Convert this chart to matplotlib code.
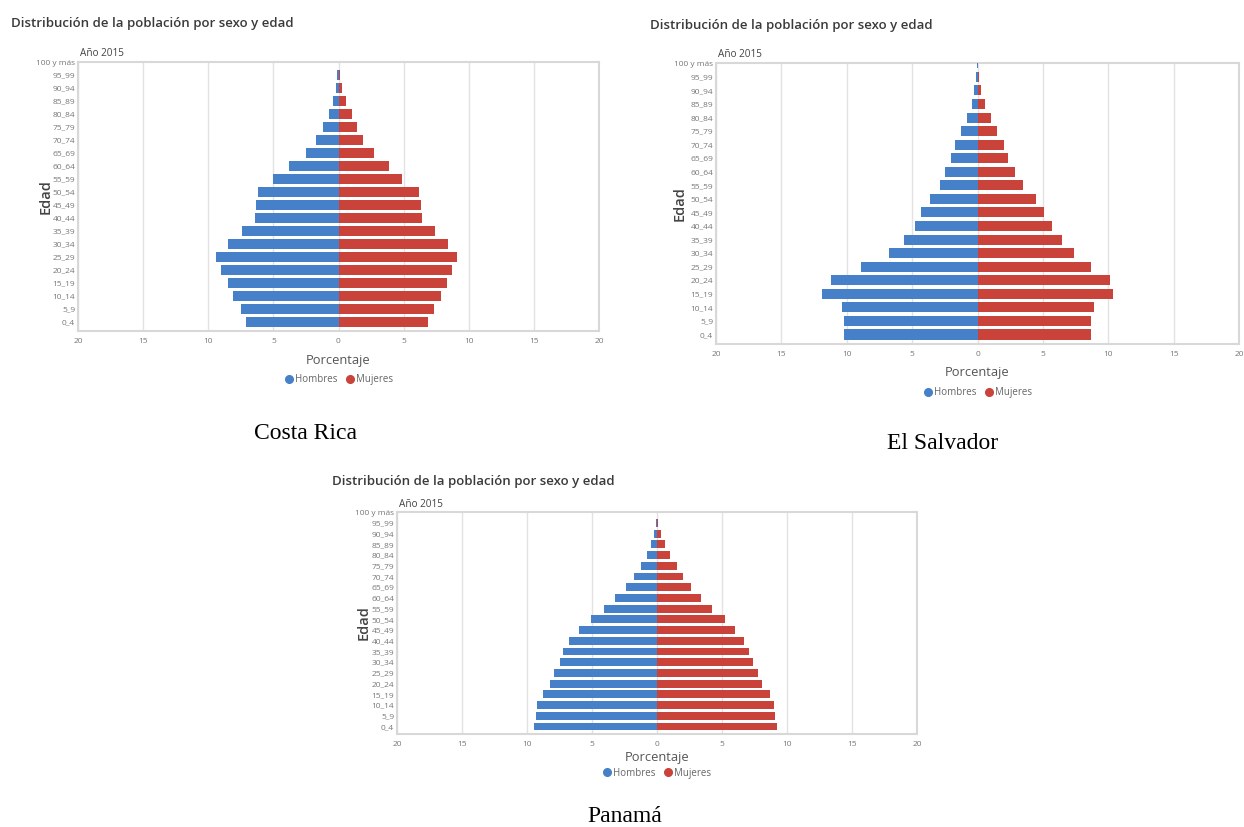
import matplotlib
matplotlib.use("Agg")
import matplotlib.pyplot as plt
from matplotlib.lines import Line2D
from matplotlib.ticker import FuncFormatter

# Age groups (bottom to top)
edades = ['0_4', '5_9', '10_14', '15_19', '20_24', '25_29', '30_34', '35_39',
          '40_44', '45_49', '50_54', '55_59', '60_64', '65_69', '70_74',
          '75_79', '80_84', '85_89', '90_94', '95_99', '100 y más']

# Costa Rica, % of population
cr_hombres = [7.1, 7.5, 8.1, 8.5, 9.0, 9.4, 8.5, 7.4, 6.4, 6.3, 6.2, 5.0,
              3.8, 2.5, 1.7, 1.2, 0.7, 0.4, 0.2, 0.1, 0.0]
cr_mujeres = [6.9, 7.3, 7.9, 8.3, 8.7, 9.1, 8.4, 7.4, 6.4, 6.3, 6.2, 4.9,
              3.9, 2.7, 1.9, 1.4, 1.0, 0.6, 0.25, 0.1, 0.0]

# El Salvador
es_hombres = [10.2, 10.2, 10.4, 11.9, 11.2, 8.9, 6.8, 5.6, 4.8, 4.3, 3.6, 2.9,
              2.5, 2.0, 1.7, 1.3, 0.8, 0.45, 0.25, 0.1, 0.03]
es_mujeres = [8.7, 8.7, 8.9, 10.4, 10.1, 8.7, 7.4, 6.5, 5.7, 5.1, 4.5, 3.5,
              2.9, 2.3, 2.0, 1.5, 1.0, 0.6, 0.3, 0.1, 0.03]

# Panamá
pa_hombres = [9.5, 9.3, 9.2, 8.8, 8.2, 7.9, 7.5, 7.2, 6.8, 6.0, 5.1, 4.1,
              3.2, 2.4, 1.8, 1.2, 0.8, 0.45, 0.2, 0.1, 0.0]
pa_mujeres = [9.2, 9.1, 9.0, 8.7, 8.1, 7.8, 7.4, 7.1, 6.7, 6.0, 5.2, 4.2,
              3.4, 2.6, 2.0, 1.5, 1.0, 0.6, 0.3, 0.1, 0.0]

xticks = [-20, -15, -10, -5, 0, 5, 10, 15, 20]

AZUL = '#4580c8'
ROJO = '#c9433a'
W, H = 1244, 827

plt.rcParams['font.family'] = ['Open Sans', 'DejaVu Sans']

fig = plt.figure(figsize=(W / 100, H / 100), dpi=100)


def px_rect(l, t, r, b):
    return [l / W, 1 - b / H, (r - l) / W, (b - t) / H]


def piramide(rect, hombres, mujeres, ylab_x, xlab_y, leg_y):
    ax = fig.add_axes(px_rect(*rect))
    y = list(range(len(edades)))
    ax.barh(y, [-v for v in hombres], height=0.74, color=AZUL, zorder=3)
    ax.barh(y, mujeres, height=0.74, color=ROJO, zorder=3)
    ax.set_xlim(-20, 20)
    ax.set_ylim(-0.7, 20.02)
    ax.set_xticks(xticks)
    ax.xaxis.set_major_formatter(FuncFormatter(lambda v, p: '%d' % abs(v)))
    ax.set_yticks(y)
    ax.set_yticklabels(edades)
    ax.tick_params(axis='both', length=0, labelsize=6, labelcolor='#777777')
    ax.tick_params(axis='x', pad=5)
    ax.tick_params(axis='y', pad=2)
    ax.grid(axis='x', color='#e2e2e2', linewidth=1, zorder=0)
    for s in ax.spines.values():
        s.set_color('#d8d8d8')
        s.set_linewidth(1.5)
    ax.set_xlabel('Porcentaje', fontsize=9.3, color='#555555')
    ax.xaxis.set_label_coords(0.5, xlab_y)
    ax.xaxis.label.set_va('center')
    ax.set_ylabel('Edad', fontsize=10.5, color='#444444', fontweight='semibold')
    ax.yaxis.set_label_coords(ylab_x, 0.5)
    ax.yaxis.label.set_va('center')
    ax.text(0.003, 1.01, 'Año 2015', transform=ax.transAxes, fontsize=7.2,
            color='#444444', ha='left', va='bottom')
    handles = [Line2D([], [], marker='o', ls='', color=AZUL, markersize=5.5, label='Hombres'),
               Line2D([], [], marker='o', ls='', color=ROJO, markersize=5.5, label='Mujeres')]
    leg = ax.legend(handles=handles, loc='center', bbox_to_anchor=(0.5, leg_y), ncol=2,
                    frameon=False, fontsize=7, handletextpad=0.1, columnspacing=0.8,
                    handlelength=1.0)
    for t in leg.get_texts():
        t.set_color('#666666')
    return ax


piramide((78, 62, 599, 331), cr_hombres, cr_mujeres, -0.063, -0.108, -0.182)
piramide((716, 63, 1239, 344), es_hombres, es_mujeres, -0.069, -0.103, -0.174)
piramide((397, 512, 917, 734), pa_hombres, pa_mujeres, -0.065, -0.104, -0.176)

titulo = 'Distribución de la población por sexo y edad'
for x, y in [(11, 24), (650, 25), (332, 481)]:
    fig.text(x / W, 1 - y / H, titulo, fontsize=9.5, color='#3a3a3a',
             fontweight='semibold', ha='left', va='center')

for x, y, pais in [(306, 434, 'Costa Rica'), (943, 443, 'El Salvador'), (625, 816, 'Panamá')]:
    fig.text(x / W, 1 - y / H, pais, fontsize=17, family='Liberation Serif',
             color='black', ha='center', va='center')

fig.savefig('out.png', dpi=100, facecolor='white')
